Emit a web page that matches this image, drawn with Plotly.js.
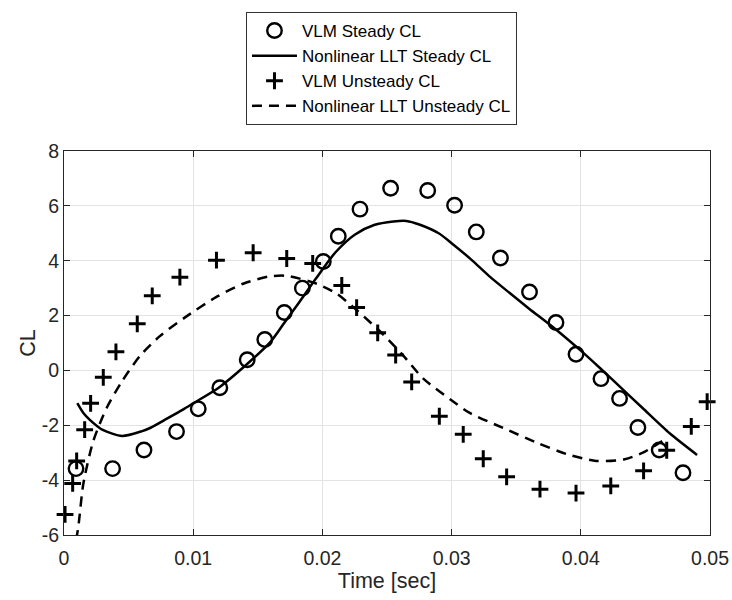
<!DOCTYPE html>
<html>
<head>
<meta charset="utf-8">
<script src="https://cdn.plot.ly/plotly-3.0.1.min.js"></script>
<style>
  html, body { margin: 0; padding: 0; background: #ffffff; }
  #chart { width: 732px; height: 600px; }
</style>
</head>
<body>
<div id="chart"></div>
<script>
// ---- Data ----
const vlmSteadyT = [0.00093, 0.00376, 0.00619, 0.00871, 0.01039, 0.01206, 0.01418, 0.01554, 0.01705, 0.01845,
                    0.02007, 0.02123, 0.02291, 0.02528, 0.02815, 0.03023, 0.03191, 0.03378, 0.03603, 0.03808,
                    0.03963, 0.04156, 0.04300, 0.04442, 0.04607, 0.04791];
const vlmSteadyCL = [-3.58, -3.58, -2.90, -2.23, -1.40, -0.63, 0.39, 1.13, 2.11, 3.00,
                     3.97, 4.89, 5.88, 6.64, 6.56, 6.02, 5.05, 4.10, 2.86, 1.75,
                     0.59, -0.30, -1.02, -2.08, -2.90, -3.73];

const lltSteadyT = [0.00103, 0.0015, 0.002, 0.003, 0.0045, 0.006, 0.0067, 0.008, 0.0092, 0.010,
                    0.012, 0.014, 0.016, 0.017, 0.018, 0.0195, 0.021, 0.0225, 0.024, 0.0255,
                    0.0265, 0.0275, 0.029, 0.030, 0.0315, 0.033, 0.0345, 0.036, 0.038, 0.040,
                    0.0415, 0.043, 0.0448, 0.0469, 0.049];
const lltSteadyCL = [-1.19, -1.55, -1.80, -2.17, -2.39, -2.22, -2.09, -1.75, -1.43, -1.20,
                     -0.62, 0.16, 1.05, 1.70, 2.35, 3.35, 4.30, 4.95, 5.30, 5.43,
                     5.45, 5.32, 5.00, 4.64, 4.05, 3.40, 2.82, 2.25, 1.52, 0.72,
                     0.08, -0.58, -1.38, -2.30, -3.08];

const vlmUnsteadyT = [0.00008, 0.00067, 0.00098, 0.0016, 0.00206, 0.00304, 0.00402, 0.00567, 0.00683, 0.00897,
                      0.0118, 0.01464, 0.01724, 0.01925, 0.0215, 0.02265, 0.02428, 0.02567, 0.02691, 0.02905,
                      0.0309, 0.03245, 0.03426, 0.03684, 0.03963, 0.04232, 0.04486, 0.04665, 0.04855, 0.04978];
const vlmUnsteadyCL = [-5.25, -4.12, -3.30, -2.16, -1.20, -0.25, 0.68, 1.70, 2.72, 3.40,
                       4.02, 4.29, 4.08, 3.90, 3.10, 2.29, 1.37, 0.56, -0.42, -1.67,
                       -2.33, -3.22, -3.88, -4.33, -4.47, -4.21, -3.66, -2.91, -2.04, -1.14];

const lltUnsteadyT = [0.0007, 0.0011, 0.0015, 0.00227, 0.0033, 0.00446, 0.00588, 0.00742, 0.00948, 0.0118,
                      0.01387, 0.0158, 0.0172, 0.01956, 0.0211, 0.02265, 0.02471, 0.02626, 0.02781, 0.02988,
                      0.0314, 0.034, 0.03658, 0.0389, 0.0412, 0.0434, 0.0448, 0.0467];
const lltUnsteadyCL = [-6.80, -5.73, -4.12, -2.57, -1.37, -0.42, 0.53, 1.25, 1.97, 2.68,
                       3.16, 3.42, 3.45, 3.16, 2.80, 2.20, 1.31, 0.54, -0.30, -1.05,
                       -1.55, -2.10, -2.63, -3.05, -3.30, -3.24, -3.00, -2.46];

const seriesNames = ['VLM Steady CL', 'Nonlinear LLT Steady CL', 'VLM Unsteady CL', 'Nonlinear LLT Unsteady CL'];

const xTickVals = [0, 0.01, 0.02, 0.03, 0.04, 0.05];
const xTickText = ['0', '0.01', '0.02', '0.03', '0.04', '0.05'];
const yTickVals = [-6, -4, -2, 0, 2, 4, 6, 8];
const yTickText = ['-6', '-4', '-2', '0', '2', '4', '6', '8'];

// ---- Chart ----
const FONT = 'Arial, "Liberation Sans", Helvetica, sans-serif';
const AX = '#262626';

const traces = [
  {
    x: vlmSteadyT, y: vlmSteadyCL, name: seriesNames[0], type: 'scatter', mode: 'markers',
    cliponaxis: false,
    marker: { symbol: 'circle-open', size: 14.5, color: '#000', line: { width: 2.4, color: '#000' } }
  },
  {
    x: lltSteadyT, y: lltSteadyCL, name: seriesNames[1], type: 'scatter', mode: 'lines',
    line: { color: '#000', width: 2.5, shape: 'spline', smoothing: 0.7 }
  },
  {
    x: vlmUnsteadyT, y: vlmUnsteadyCL, name: seriesNames[2], type: 'scatter', mode: 'markers',
    cliponaxis: false,
    marker: { symbol: 'cross-thin-open', size: 12, color: '#000', line: { width: 3, color: '#000' } }
  },
  {
    x: lltUnsteadyT, y: lltUnsteadyCL, name: seriesNames[3], type: 'scatter', mode: 'lines',
    line: { color: '#000', width: 2.5, dash: '10px,7px', shape: 'spline', smoothing: 0.7 }
  }
];

const axisCommon = {
  showline: true, linecolor: AX, linewidth: 1, mirror: 'ticks',
  ticks: 'inside', ticklen: 6, tickcolor: AX, tickwidth: 1,
  showgrid: true, gridcolor: '#e3e3e3', gridwidth: 1,
  zeroline: false,
  tickfont: { family: FONT, size: 19.5, color: AX }
};

const layout = {
  width: 732, height: 600,
  margin: { l: 64, r: 22, t: 145, b: 65, pad: 0 },
  paper_bgcolor: '#ffffff', plot_bgcolor: '#ffffff',
  font: { family: FONT, color: AX },
  showlegend: true,
  xaxis: Object.assign({}, axisCommon, {
    range: [0, 0.05], tickmode: 'array', tickvals: xTickVals, ticktext: xTickText,
    ticklabelstandoff: 6,
    title: { text: 'Time [sec]', font: { family: FONT, size: 21.5, color: AX }, standoff: 4 }
  }),
  yaxis: Object.assign({}, axisCommon, {
    range: [-6, 8], tickmode: 'array', tickvals: yTickVals, ticktext: yTickText,
    title: { text: 'CL', font: { family: FONT, size: 21.5, color: AX }, standoff: 0 }
  }),
  legend: {
    x: 0.2817, y: 1.362, xanchor: 'left', yanchor: 'top',
    bgcolor: '#ffffff', bordercolor: '#333333', borderwidth: 1,
    font: { family: FONT, size: 17, color: '#000' },
    itemwidth: 45, tracegroupgap: 0
  }
};

Plotly.newPlot('chart', traces, layout, { displayModeBar: false, staticPlot: true });
</script>
</body>
</html>
